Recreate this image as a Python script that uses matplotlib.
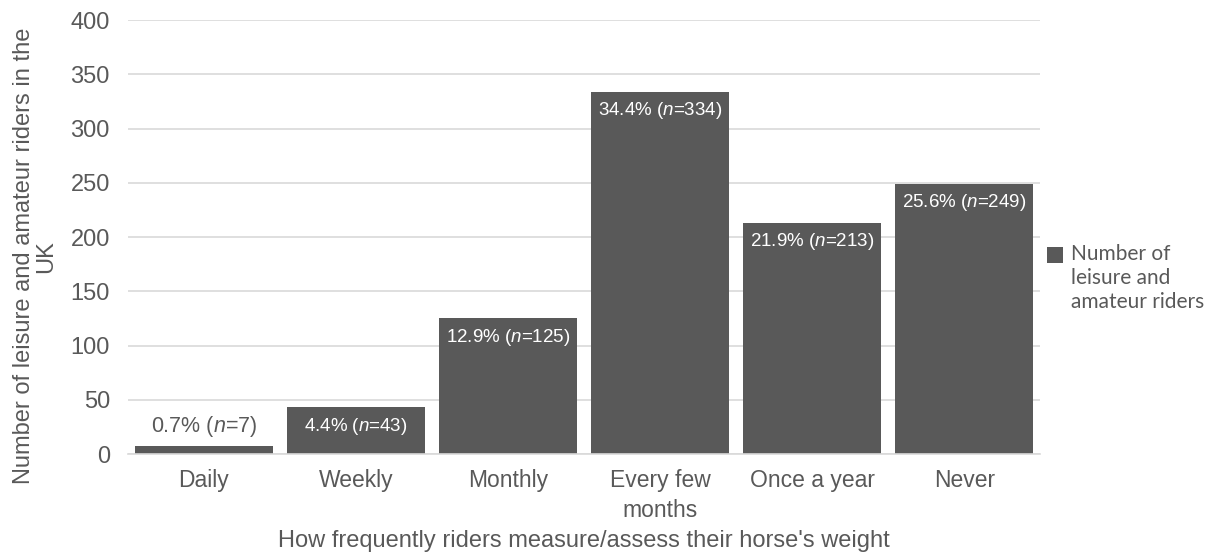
import numpy as np
import matplotlib
matplotlib.use("Agg")
import matplotlib.pyplot as plt

plt.rcParams['font.family'] = ['Liberation Sans', 'DejaVu Sans']
plt.rcParams['mathtext.fontset'] = 'custom'
plt.rcParams['mathtext.rm'] = 'Liberation Sans'
plt.rcParams['mathtext.it'] = 'Liberation Sans:italic'

# data
categories = ["Daily", "Weekly", "Monthly", "Every few\nmonths", "Once a year", "Never"]
counts = [7, 43, 125, 334, 213, 249]
percents = [0.7, 4.4, 12.9, 34.4, 21.9, 25.6]
series_name = "Number of\nleisure and\namateur riders"

bar_color = "#595959"
text_color = "#595959"
grid_color = "#d9d9d9"

fig = plt.figure(figsize=(12.21, 5.59), dpi=100)
ax = fig.add_axes([0.1048, 0.1878, 0.7472, 0.7762])

x = np.arange(len(categories))
bars = ax.bar(x, counts, width=0.91, color=bar_color, label=series_name, zorder=2)

ax.set_ylim(0, 400)
ax.set_xlim(-0.5, len(categories) - 0.5)
ax.set_yticks(range(0, 401, 50))
ax.set_xticks(x)
ax.set_xticklabels(categories, fontsize=16.5, color=text_color, linespacing=1.35)
ax.tick_params(axis='y', labelsize=17, colors=text_color, length=0, pad=13)
ax.tick_params(axis='x', length=0, pad=11)
ax.yaxis.grid(True, color=grid_color, linewidth=1.2, zorder=0)
for s in ['top', 'right', 'left']:
    ax.spines[s].set_visible(False)
ax.spines['bottom'].set_color(grid_color)
ax.spines['bottom'].set_linewidth(1.2)

# value labels
for i, (c, p) in enumerate(zip(counts, percents)):
    lab = f"{p}% ($n$={c})"
    if c < 20:
        ax.annotate(lab, (i, c), xytext=(0, 5), textcoords='offset points',
                    ha='center', va='bottom', fontsize=15.5, color=text_color)
    else:
        ax.annotate(lab, (i, c), xytext=(0, -6), textcoords='offset points',
                    ha='center', va='top', fontsize=13.5, color='white')

ax.set_xlabel("How frequently riders measure/assess their horse's weight",
              fontsize=17, color=text_color, labelpad=6)
ax.set_ylabel("Number of leisure and amateur riders in the\nUK",
              fontsize=17, color=text_color, linespacing=1.0)
ax.yaxis.set_label_coords(-0.078, 0.456)

leg = ax.legend(loc='center left', bbox_to_anchor=(0.998, 0.405), frameon=False,
                prop={'family': 'Lato', 'size': 15}, handlelength=0.8,
                handleheight=0.8, handletextpad=0.35, borderaxespad=0)
for t in leg.get_texts():
    t.set_color(text_color)
    t.set_linespacing(1.25)
# put the marker next to the first line
h = leg.legend_handles[0]
h.set_y(h.get_y() + 17)

fig.savefig("out.png", dpi=100)
